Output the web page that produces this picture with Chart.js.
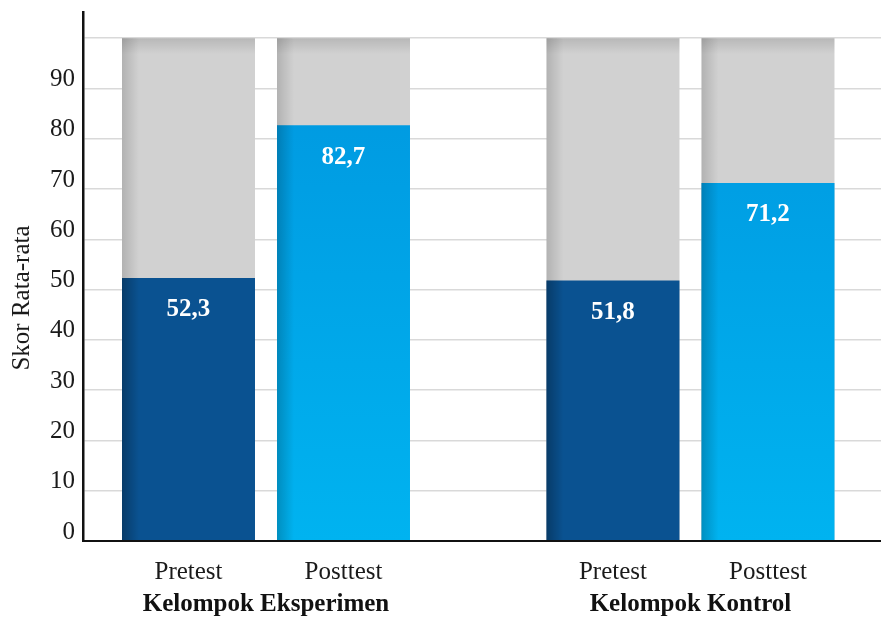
<!DOCTYPE html>
<html>
<head>
<meta charset="utf-8">
<script src="https://cdn.jsdelivr.net/npm/chart.js@4/dist/chart.umd.min.js"></script>
<style>
  html, body { margin: 0; padding: 0; background: #ffffff; }
  canvas { display: block; }
</style>
</head>
<body>
<canvas id="chart" width="881" height="619"></canvas>
<script>
// Mean scores per group and test phase
const groups = ['Kelompok Eksperimen', 'Kelompok Kontrol'];
const phases = ['Pretest', 'Posttest'];
const pretest = [52.3, 51.8];
const posttest = [82.7, 71.2];
const scaleFull = [100, 100];          // grey track behind each bar
const yTicks = [0, 10, 20, 30, 40, 50, 60, 70, 80, 90, 100];
const yTitle = 'Skor Rata-rata';

const SERIF = "'Liberation Serif', 'Times New Roman', serif";
const FS = 25;
const fmt = v => v.toFixed(1).replace('.', ',');
const points = arr => arr.map((v, i) => ({ x: i, y: v }));

// Subtle left-edge (and top, for tracks) shading on every bar
const barShading = {
  id: 'barShading',
  afterDatasetDraw(chart, args) {
    const ds = chart.data.datasets[args.index];
    const ctx = chart.ctx;
    const alpha = ds.shadeAlpha || 0;
    args.meta.data.forEach(el => {
      const { x, y, base, width } = el.getProps(['x', 'y', 'base', 'width'], true);
      const left = x - width / 2;
      const h = base - y;
      ctx.save();
      let g = ctx.createLinearGradient(left, 0, left + 17, 0);
      g.addColorStop(0, `rgba(0,0,0,${alpha})`);
      g.addColorStop(1, 'rgba(0,0,0,0)');
      ctx.fillStyle = g;
      ctx.fillRect(left, y, 17, h);
      if (ds.shadeTop) {
        g = ctx.createLinearGradient(0, y, 0, y + 16);
        g.addColorStop(0, 'rgba(0,0,0,0.12)');
        g.addColorStop(1, 'rgba(0,0,0,0)');
        ctx.fillStyle = g;
        ctx.fillRect(left, y, width, 16);
      }
      ctx.restore();
    });
  }
};

// Value labels, category labels and the vertical axis title
const textLayer = {
  id: 'textLayer',
  afterDraw(chart) {
    const ctx = chart.ctx;
    const area = chart.chartArea;
    const xs = chart.scales.x;
    ctx.save();
    ctx.textAlign = 'center';
    ctx.textBaseline = 'middle';

    [0, 1].forEach(di => {
      const ds = chart.data.datasets[di];
      const meta = chart.getDatasetMeta(di);
      meta.data.forEach((el, i) => {
        const { x, y } = el.getProps(['x', 'y'], true);
        ctx.fillStyle = '#ffffff';
        ctx.font = `bold ${FS}px ${SERIF}`;
        ctx.fillText(fmt(ds.data[i].y), x, y + 32);
        ctx.fillStyle = '#1a1a1a';
        ctx.font = `${FS}px ${SERIF}`;
        ctx.fillText(phases[di], x, area.bottom + 31);
      });
    });

    ctx.fillStyle = '#111111';
    ctx.font = `bold ${FS}px ${SERIF}`;
    groups.forEach((g, i) => {
      ctx.fillText(g, xs.getPixelForValue(i), area.bottom + 64);
    });

    ctx.translate(22, 298);
    ctx.rotate(-Math.PI / 2);
    ctx.fillStyle = '#1a1a1a';
    ctx.font = `${FS}px ${SERIF}`;
    ctx.fillText(yTitle, 0, 0);
    ctx.restore();
  }
};

const postFill = (c) => {
  const area = c.chart.chartArea;
  if (!area) return '#00A6EA';
  const g = c.chart.ctx.createLinearGradient(0, area.bottom, 0, area.top);
  g.addColorStop(0, '#00B3F0');
  g.addColorStop(1, '#0095DE');
  return g;
};

new Chart(document.getElementById('chart'), {
  type: 'bar',
  data: {
    datasets: [
      { label: phases[0], data: points(pretest), stack: phases[0], backgroundColor: '#0A5291', shadeAlpha: 0.28 },
      { label: phases[1], data: points(posttest), stack: phases[1], backgroundColor: postFill, shadeAlpha: 0.2 },
      { label: 'track-pre', data: points(scaleFull), stack: phases[0], backgroundColor: '#D1D1D1', shadeAlpha: 0.15, shadeTop: true },
      { label: 'track-post', data: points(scaleFull), stack: phases[1], backgroundColor: '#D1D1D1', shadeAlpha: 0.15, shadeTop: true }
    ]
  },
  options: {
    responsive: false,
    animation: false,
    devicePixelRatio: 1,
    layout: { padding: { top: 12, left: 0, right: 0, bottom: 0 } },
    datasets: { bar: { categoryPercentage: 0.7303, barPercentage: 0.858, borderWidth: 0 } },
    plugins: { legend: { display: false }, tooltip: { enabled: false } },
    scales: {
      x: {
        type: 'linear',
        stacked: true,
        offset: false,
        min: -0.4311,
        max: 1.4488,
        afterBuildTicks: s => { s.ticks = groups.map((_, i) => ({ value: i })); },
        afterFit: s => { s.height = 78; s.paddingLeft = 0; s.paddingRight = 0; },
        ticks: { display: false },
        grid: { display: false, offset: false },
        border: { display: true, color: '#111111', width: 2, z: 1 }
      },
      y: {
        stacked: false,
        min: 0,
        max: 105.2,
        afterBuildTicks: s => { s.ticks = yTicks.map(v => ({ value: v })); },
        afterFit: s => { s.width = 83; s.paddingTop = 0; s.paddingBottom = 0; },
        ticks: {
          stepSize: 10,
          padding: 8,
          labelOffset: -9,
          color: '#1a1a1a',
          font: { family: SERIF, size: FS },
          callback: v => (v === 100 ? '' : v)
        },
        grid: { color: '#D9D9D9', lineWidth: 1.5, drawTicks: false },
        border: { display: true, color: '#111111', width: 2.5, z: 1 }
      }
    }
  },
  plugins: [barShading, textLayer]
});
</script>
</body>
</html>
